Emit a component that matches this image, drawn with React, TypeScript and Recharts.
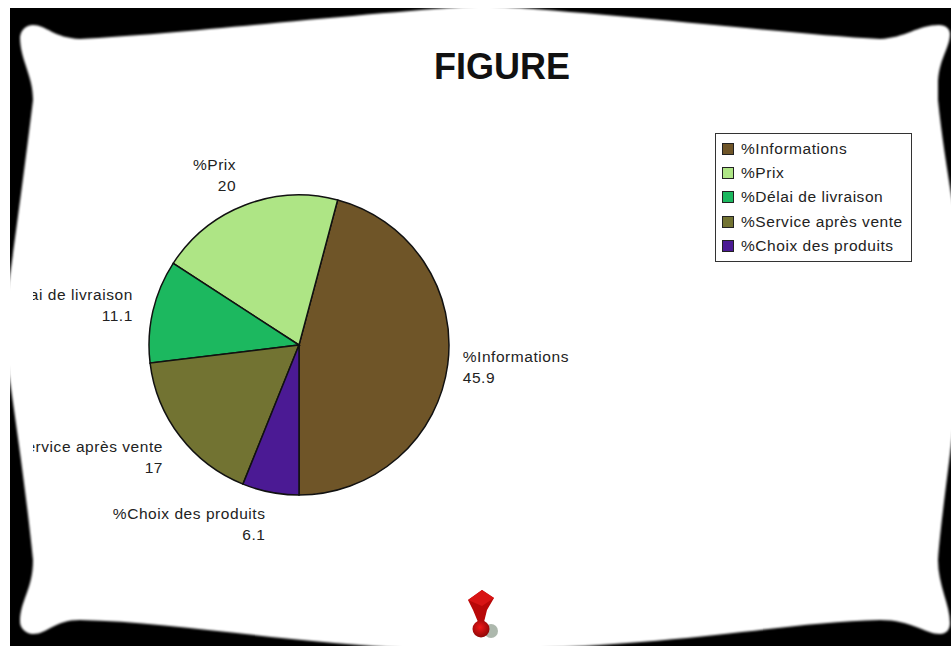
import { PieChart, Pie, Cell, Legend } from 'recharts';

const labels = ['%Informations', '%Prix', '%Délai de livraison', '%Service après vente', '%Choix des produits'];
const values = [45.9, 20, 11.1, 17, 6.1];
const colors = ['#6f5528', '#aee585', '#1cb85f', '#727332', '#4b1a94'];

// label position relative to the slice edge
const labelDx = [15, -9, -20, -17, -5];
const labelDy = [-2, -35, -11, 16, 27];

const data = labels.map((name, i) => ({ name, value: values[i] }));

const FONT = '"Liberation Sans", Arial, sans-serif';
const RAD = Math.PI / 180;

const textStyle = { fontFamily: FONT, fontSize: 15.5, letterSpacing: 0.55 };

const renderLabel = (props: any) => {
  const { cx, cy, midAngle, outerRadius, index, name, value } = props;
  const x = cx + outerRadius * Math.cos(midAngle * RAD) + labelDx[index];
  const y = cy - outerRadius * Math.sin(midAngle * RAD) + labelDy[index];
  const anchor = index === 0 ? 'start' : 'end';
  return (
    <g key={name} clipPath="url(#labelClip)">
      <text x={x} y={y} textAnchor={anchor} fill="#222" style={textStyle}>
        {name}
      </text>
      <text x={x} y={y + 21} textAnchor={anchor} fill="#222" style={textStyle}>
        {value}
      </text>
    </g>
  );
};

const renderLegend = (props: any) => (
  <div
    style={{
      boxSizing: 'border-box',
      width: 197,
      height: 129,
      border: '1.5px solid #333',
      background: 'white',
      paddingTop: 3,
      paddingLeft: 6,
    }}
  >
    {(props.payload || []).map((item: any) => (
      <div key={item.value} style={{ display: 'flex', alignItems: 'center', height: 24.2 }}>
        <span
          style={{
            boxSizing: 'border-box',
            width: 12,
            height: 12,
            background: item.color,
            border: '1px solid #222',
            marginRight: 7,
          }}
        />
        <span style={{ ...textStyle, color: '#222', whiteSpace: 'nowrap' }}>{item.value}</span>
      </div>
    ))}
  </div>
);

const Frame = () => (
  <svg width={951} height={646} style={{ position: 'absolute', left: 0, top: 0 }}>
    <defs>
      <filter id="soft" x="-5%" y="-5%" width="110%" height="110%">
        <feGaussianBlur stdDeviation="0.8" />
      </filter>
      <radialGradient id="ball" cx="45%" cy="40%" r="60%">
        <stop offset="0%" stopColor="#f01818" />
        <stop offset="100%" stopColor="#8e0606" />
      </radialGradient>
    </defs>
    <rect x={10} y={8} width={941} height={638} fill="#000" />
    <path
      filter="url(#soft)"
      fill="#fff"
      d="M20 37 C21 29 27 25 33 25 C46 25 54 38 80 39
         C180 34 350 14 478 6 L490 6 C620 14 790 34 880 39
         C905 38 918 25 939 25 C946 25 950 29 950 34 C950 48 938 60 938 85 L938 100
         C941 130 947 170 953 205 L953 430 C947 480 940 530 938 560
         C938 585 950 605 950 623 C950 630 946 634 940 634
         C925 634 912 620 880 620 C780 622 680 648 455 650 C300 646 180 622 80 620
         C54 620 48 634 33 634 C26 634 20 628 20 622 C20 600 33 590 33 560
         C27 500 17 430 9 375 C5 340 5 310 9 282 C15 240 27 150 33 100
         C33 75 20 60 20 37 Z"
    />
    <text x={502} y={79} textAnchor="middle" fontFamily={FONT} fontWeight="bold" fontSize={36} fill="#111">
      FIGURE
    </text>
    <ellipse cx={491} cy={631} rx={7} ry={7} fill="#8a9a8a" opacity={0.7} />
    <path d="M482 590 L494 598 L487 610 L484 622 L478 622 L473 610 L468 600 Z" fill="#b80808" />
    <path d="M482 590 L494 598 L482 606 L468 600 Z" fill="#d81414" />
    <circle cx={481} cy={629} r={8.5} fill="url(#ball)" />
  </svg>
);

export default function App() {
  return (
    <div style={{ position: 'absolute', left: 0, top: 0, width: 951, height: 646, overflow: 'hidden' }}>
      <Frame />
      <div style={{ position: 'absolute', left: 0, top: 0 }}>
        <PieChart width={951} height={646} margin={{ top: 0, right: 0, bottom: 0, left: 0 }}>
          <defs>
            <clipPath id="labelClip">
              <rect x={33} y={0} width={918} height={646} />
            </clipPath>
          </defs>
          <Pie
            data={data}
            dataKey="value"
            nameKey="name"
            cx={299}
            cy={345}
            outerRadius={150}
            startAngle={-90}
            endAngle={270}
            stroke="#111"
            strokeWidth={1.5}
            label={renderLabel}
            labelLine={false}
            isAnimationActive={false}
          >
            {data.map((entry, i) => (
              <Cell key={entry.name} fill={colors[i]} />
            ))}
          </Pie>
          <Legend
            layout="vertical"
            align="right"
            verticalAlign="top"
            content={renderLegend}
            itemSorter={null}
            wrapperStyle={{ position: 'absolute', left: 715, top: 133, right: 'auto', bottom: 'auto', width: 197, height: 129 }}
          />
        </PieChart>
      </div>
    </div>
  );
}
